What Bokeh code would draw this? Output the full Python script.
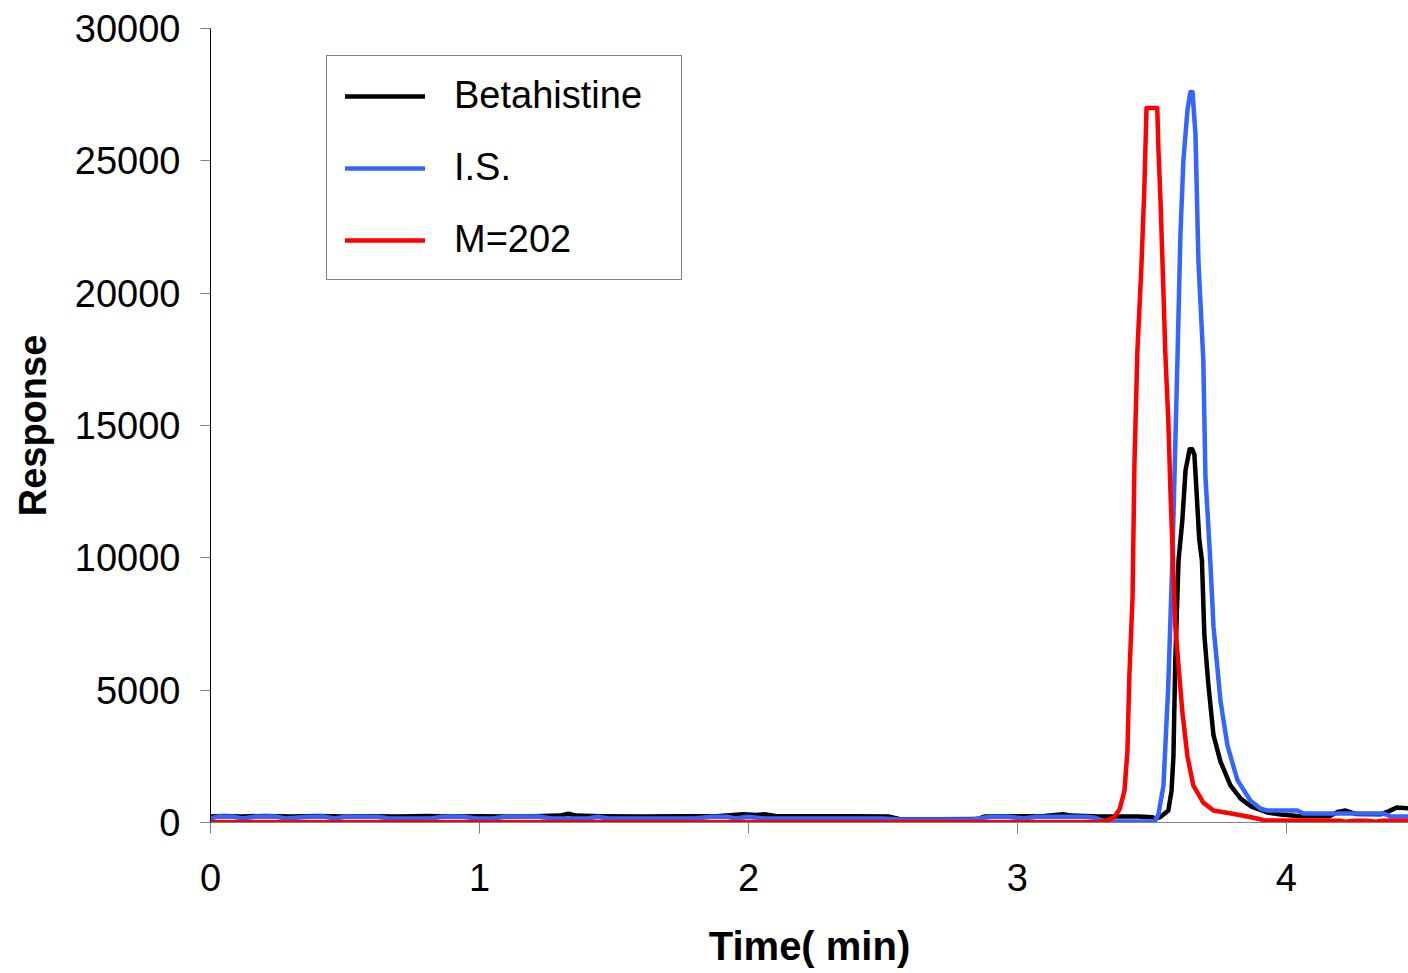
from bokeh.plotting import figure
from bokeh.models import Range1d, Legend, LegendItem, FixedTicker
from bokeh.embed import file_html
from bokeh.resources import INLINE

# ---- data (time in min, response) ----
beta_t = [0.00, 0.05, 0.12, 0.20, 0.30, 0.40, 0.50, 0.60, 0.70, 0.80, 0.90, 1.00, 1.10, 1.20,
          1.30, 1.33, 1.36, 1.45, 1.60, 1.75, 1.88, 1.98, 2.03, 2.06, 2.10, 2.25, 2.40, 2.52,
          2.56, 2.70, 2.85, 2.88, 3.00, 3.10, 3.17, 3.20, 3.30, 3.45, 3.50, 3.513, 3.53, 3.543,
          3.561, 3.573, 3.580, 3.587, 3.599, 3.613, 3.625, 3.640, 3.650, 3.658, 3.666, 3.676,
          3.686, 3.695, 3.710, 3.729, 3.755, 3.792, 3.830, 3.870, 3.903, 3.929, 3.98, 4.05,
          4.16, 4.19, 4.22, 4.26, 4.35, 4.38, 4.41, 4.454]
beta_v = [230, 250, 230, 250, 230, 250, 230, 240, 230, 250, 230, 240, 230, 240,
          260, 330, 260, 240, 230, 240, 240, 310, 280, 310, 250, 240, 240, 230,
          130, 120, 130, 230, 240, 250, 310, 260, 230, 230, 200, 150, 200, 300,
          450, 1200, 2500, 6100, 9900, 11400, 13300, 14100, 14100, 13900, 12500, 10700,
          9900, 7100, 5200, 3300, 2300, 1400, 900, 600, 480, 380, 300, 240,
          240, 400, 450, 320, 310, 420, 570, 540]

is_t = [0.00, 0.03, 0.08, 0.12, 0.17, 0.24, 0.28, 0.36, 0.42, 0.46, 0.50, 0.62, 0.67, 0.82,
        0.86, 0.94, 0.99, 1.05, 1.10, 1.22, 1.27, 1.40, 1.44, 1.48, 1.80, 1.86, 1.92, 1.95,
        2.00, 2.06, 2.10, 2.50, 2.56, 2.83, 2.90, 2.97, 3.02, 3.07, 3.12, 3.18, 3.25, 3.29,
        3.32, 3.35, 3.51, 3.524, 3.543, 3.561, 3.576, 3.595, 3.606, 3.617, 3.632, 3.643,
        3.651, 3.662, 3.673, 3.691, 3.699, 3.717, 3.729, 3.755, 3.781, 3.818, 3.866, 3.903,
        3.929, 4.041, 4.063, 4.361, 4.387, 4.454]
is_v = [150, 230, 230, 150, 230, 230, 150, 220, 230, 150, 220, 220, 150, 150,
        220, 220, 150, 150, 230, 230, 150, 150, 220, 150, 150, 220, 220, 150,
        220, 150, 150, 150, 110, 110, 220, 220, 150, 220, 220, 220, 220, 180,
        60, 40, 40, 300, 1400, 5200, 9900, 17500, 22200, 25000, 26900, 27600,
        27600, 26000, 21200, 17500, 13100, 9900, 7400, 4600, 2900, 1600, 830, 530,
        450, 450, 340, 340, 230, 230]

m202_t = [0.00, 3.30, 3.33, 3.36, 3.38, 3.398, 3.409, 3.416, 3.428, 3.435, 3.446, 3.461,
          3.472, 3.480, 3.520, 3.524, 3.532, 3.543, 3.550, 3.561, 3.569, 3.587, 3.613,
          3.632, 3.654, 3.691, 3.729, 3.800, 3.870, 3.890, 3.920, 4.20, 4.22, 4.25, 4.30,
          4.33, 4.36, 4.454]
m202_v = [20, 20, 60, 200, 500, 1200, 2700, 5500, 8500, 13500, 17800, 21000,
          24000, 27000, 27000, 25500, 23500, 20000, 17700, 15200, 12500, 7400, 4200,
          2500, 1400, 750, 450, 330, 200, 150, 80, 70, 30, 70, 70,
          30, 70, 70]

series_names = ["Betahistine", "I.S.", "M=202"]
series_colors = ["#000000", "#3366ff", "#ff0000"]
x_ticks = [0, 1, 2, 3, 4]
y_ticks = [0, 5000, 10000, 15000, 20000, 25000, 30000]

p = figure(width=1408, height=965, frame_width=1198, frame_height=794,
           output_backend="svg", toolbar_location=None,
           x_range=Range1d(0, 4.454), y_range=Range1d(0, 30000),
           min_border_left=210, min_border_right=0, min_border_top=28, min_border_bottom=143)
p.outline_line_color = None
p.xgrid.visible = False
p.ygrid.visible = False
p.background_fill_color = "white"

renderers = []
for (tt, vv), col in zip([(beta_t, beta_v), (is_t, is_v), (m202_t, m202_v)], series_colors):
    r = p.line(tt, vv, line_color=col, line_width=4.5, line_join="round", line_cap="round")
    renderers.append(r)

font = "Liberation Sans"
p.xaxis.ticker = FixedTicker(ticks=x_ticks)
p.yaxis.ticker = FixedTicker(ticks=y_ticks)
for ax in (p.xaxis[0], p.yaxis[0]):
    ax.minor_tick_line_color = None
    ax.major_tick_in = 0
    ax.major_label_text_font = font
    ax.major_label_text_font_size = "38px"
    ax.major_label_text_color = "black"
    ax.axis_label_text_font = font
    ax.axis_label_text_font_style = "bold"
    ax.axis_label_text_color = "black"

p.yaxis.axis_line_color = "black"
p.yaxis.major_tick_line_color = "#808080"
p.yaxis.major_tick_out = 10
p.yaxis.major_label_standoff = 20
p.yaxis.axis_label = "Response"
p.yaxis.axis_label_text_font_size = "38px"
p.yaxis.axis_label_standoff = 18

p.xaxis.axis_line_color = "#808080"
p.xaxis.major_tick_line_color = "#808080"
p.xaxis.major_tick_out = 11
p.xaxis.major_label_standoff = 30
p.xaxis.axis_label = "Time( min)"
p.xaxis.axis_label_text_font_size = "40px"
p.xaxis.axis_label_standoff = 30

items = [LegendItem(label=n, renderers=[r]) for n, r in zip(series_names, renderers)]
legend = Legend(items=items, location=(116, 542))
legend.padding = 18
legend.spacing = 29
legend.glyph_width = 80
legend.glyph_height = 40
legend.label_standoff = 29
legend.label_width = 209
legend.label_text_font = font
legend.label_text_font_size = "38px"
legend.label_text_color = "black"
legend.border_line_color = "black"
legend.border_line_width = 1
legend.background_fill_alpha = 1.0
legend.margin = 0
p.add_layout(legend, "center")

open("out.html", "w").write(file_html(p, INLINE))
